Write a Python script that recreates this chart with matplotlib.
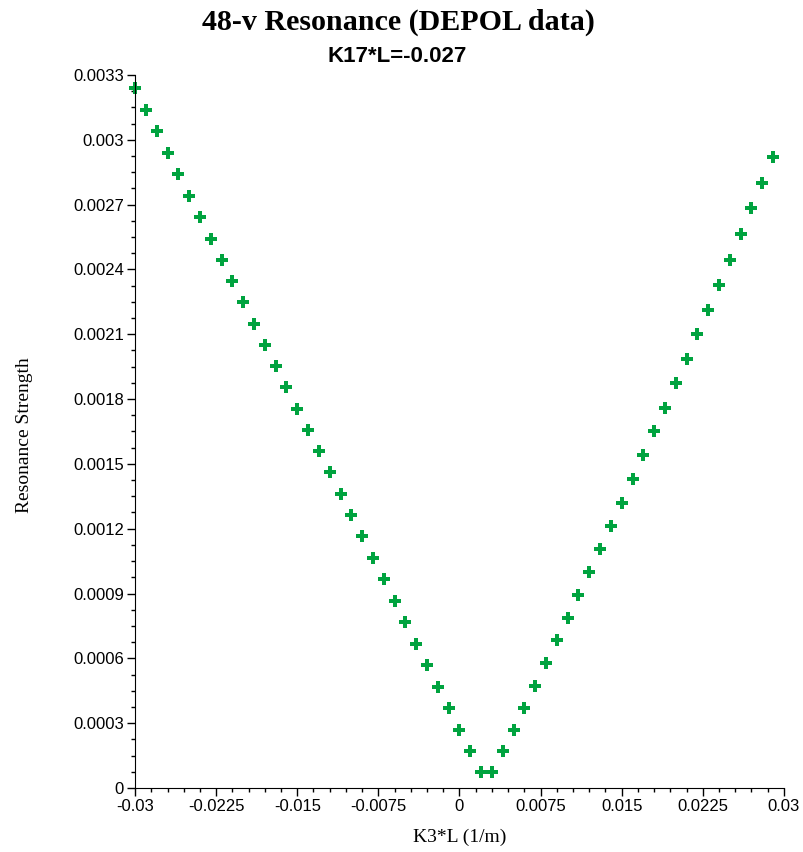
import matplotlib
matplotlib.use("Agg")
import matplotlib.pyplot as plt
from matplotlib.ticker import MultipleLocator

k3l = [round(-0.030 + 0.001 * i, 3) for i in range(60)]
strength = [0.00324, 0.003138, 0.003041, 0.002939, 0.002842, 0.00274, 0.002643, 0.002541,
            0.002444, 0.002346, 0.002249, 0.002148, 0.00205, 0.001953, 0.001856, 0.001754,
            0.001657, 0.00156, 0.001463, 0.001361, 0.001264, 0.001166, 0.001065, 0.000967,
            0.000865, 0.000768, 0.000666, 0.000569, 0.000467, 0.00037, 0.000268, 0.000171,
            0.000074, 0.000074, 0.000171, 0.000268, 0.00037, 0.000472, 0.000579, 0.000685,
            0.000787, 0.000893, 0.001, 0.001106, 0.001213, 0.001319, 0.00143, 0.001541,
            0.001652, 0.001759, 0.001874, 0.001986, 0.002101, 0.002212, 0.002328, 0.002444,
            0.002564, 0.002684, 0.0028, 0.00292]

xticks = [-0.03, -0.0225, -0.015, -0.0075, 0, 0.0075, 0.015, 0.0225, 0.03]
xticklabels = ['-0.03', '-0.0225', '-0.015', '-0.0075', '0', '0.0075', '0.015', '0.0225', '0.03']
yticks = [0, 0.0003, 0.0006, 0.0009, 0.0012, 0.0015, 0.0018, 0.0021, 0.0024, 0.0027, 0.003, 0.0033]
yticklabels = ['0', '0.0003', '0.0006', '0.0009', '0.0012', '0.0015', '0.0018', '0.0021',
               '0.0024', '0.0027', '0.003', '0.0033']

title = "48-v Resonance (DEPOL data)"
subtitle = "K17*L=-0.027"
xlabel = "K3*L (1/m)"
ylabel = "Resonance Strength"

fig = plt.figure(figsize=(8.04, 8.52), dpi=100)
ax = fig.add_axes([0.168, 0.0751, 0.807, 0.837])
ax.plot(k3l, strength, linestyle='none', marker='P', markersize=8,
        color='#00a33f', markeredgewidth=0, clip_on=False)
ax.set_xlim(-0.03, 0.03)
ax.set_ylim(0, 0.0033)
ax.spines['top'].set_visible(False)
ax.spines['right'].set_visible(False)
ax.set_xticks(xticks)
ax.set_xticklabels(xticklabels, fontfamily='Liberation Sans', fontsize=12)
ax.set_yticks(yticks)
ax.set_yticklabels(yticklabels, fontfamily='Liberation Sans', fontsize=12)
ax.xaxis.set_minor_locator(MultipleLocator(0.0015))
ax.yaxis.set_minor_locator(MultipleLocator(0.000075))
ax.tick_params(which='major', direction='out', length=6, width=1, pad=2)
ax.tick_params(which='minor', direction='out', length=3, width=1)
ax.set_xlabel(xlabel, fontfamily='Liberation Serif', fontsize=14)
ax.xaxis.label.set_va('baseline')
ax.xaxis.set_label_coords(0.5, -0.0757)
ax.set_ylabel(ylabel, fontfamily='Liberation Serif', fontsize=14)
ax.yaxis.label.set_va('center')
ax.yaxis.set_label_coords(-0.171, 0.495)
fig.text(0.4957, 1 - 30 / 852, title, ha='center', va='baseline', fontfamily='Liberation Serif',
         fontweight='bold', fontsize=21.6)
fig.text(0.494, 1 - 61.7 / 852, subtitle, ha='center', va='baseline', fontfamily='Liberation Sans',
         fontweight='bold', fontsize=16)
fig.savefig("out.png", dpi=100)
